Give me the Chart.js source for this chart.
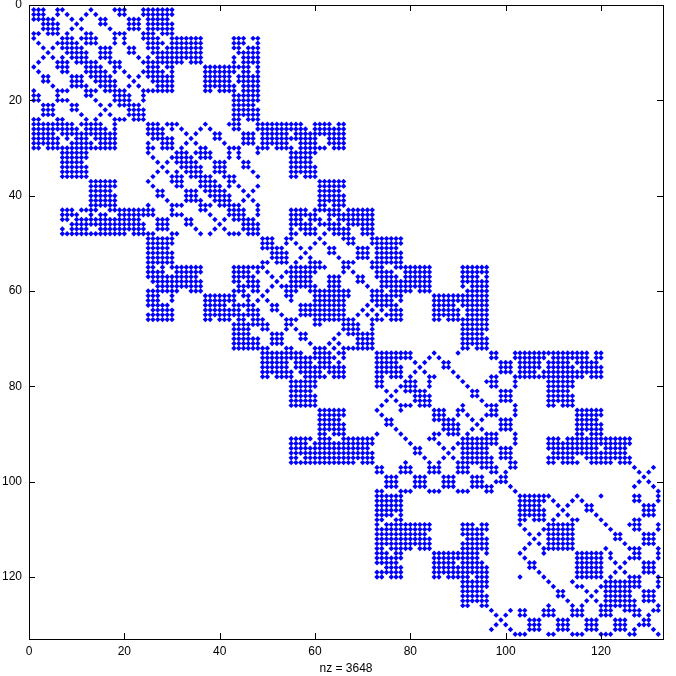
<!DOCTYPE html>
<html>
<head>
<meta charset="utf-8">
<style>
  html, body { margin: 0; padding: 0; background: #fff; }
  canvas { display: block; }
</style>
<script src="https://cdn.jsdelivr.net/npm/chart.js@4/dist/chart.umd.min.js"></script>
</head>
<body>
<canvas id="myChart" width="676" height="676"></canvas>
<script>
// sparsity pattern, one string per row, upper triangle (the matrix is symmetric)
const rows1to24 = [
  '1-3,6,7,13,18-20,24-30', '2,3,6,8,12,14,19,20,24-30', '3-5,9,11,15,16,21-23,25-29',
  '4-6,10,15,16,21-23,25-30', '5,6,9,11,17,21-23,25-30', '6,8,12,13,18-20,24-26,28-30',
  '7-9,11-14,18,20,24-27,30-36,43-45,47,48', '8-10,12-14,18,20,25-28,30-36,43-45,48',
  '9-11,15-17,21,22,25-27,29-36,43,44,46-48', '10-12,15-17,21,22,26-36,44-48',
  '11,12,15-17,23,25,27-36,43,45-48', '12-14,17-19,24-32,34-36,43,45-48',
  '13-15,18,19,25-27,29,30,37-46,48', '14-16,18,20,24-28,30,37-43,45,46,48',
  '15-17,21,23,25-30,37-42,44-48', '16-18,22,26-30,37-42,44-48',
  '17,18,21,23,27-30,37-43,45-48', '18-20,24-30,37,38,40-43,45-48',
  '19-21,24,43-48', '20,21,24,43-48', '21-23,43-47', '22-24,43-48', '23,24,43-48', '24,43,44,46-48'
];
const rows25to48 = [
  '25-27,29-31,37,42-44,48-57,60-63,65,66', '26-28,30,32,36,38,43,44,48-58,60-66',
  '27,28,33,35,39,40,45-47,49-54,56-66', '28-30,34,39,40,45-47,49-60,63-66',
  '29,30,33,35,41,45-47,49-54,57-60,63-66', '30,32,36,37,42-44,48-50,52-55,57-62,64-66',
  '31-33,35-38,42,44,48,55-60', '32-34,36-38,42,44,55-59', '33-35,39-41,45,46,55-59',
  '34-36,39-41,45,46,55-60', '35,36,39-41,47,55-60', '36-38,41-43,48,55,56,58-60',
  '37-39,42,43,61-66', '38-40,42,44,48,61-66', '39-41,45,47,61-65', '40-42,46,61-66',
  '41,42,45,47,61-66', '42-44,48,61,62,64-66', '43-45,48,55-58,60-65,67-72',
  '44,45,48,55-60,63-72', '45-47,55-57,59-61,63,65-72', '46-48,55-59,61-65,67-72',
  '47,48,55,57-60,63-67,70-72', '48,55,56,58-60,62,64-67,70-72'
];
const rows49to72 = [
  '49-51,54,55,61,66-68,72-78', '50,51,54,56,60,62,67,68,72-78', '51-53,57,59,63,64,69-71,73-77',
  '52-54,58,63,64,69-71,73-78', '53,54,57,59,65,69-71,73-78', '54,56,59-61,66-68,72-78',
  '55-62,66,67,72-74,77-84,91-96', '56-60,66,68,73-76,79-84,91-96',
  '57-59,63-65,69,70,73-77,79-84,91-94,96', '58,59,63-65,69,70,74-84,91-96',
  '59,60,63-65,71,74-84,91,93-96', '60-67,72-74,76-80,82-84,92-96', '61-67,72-78,85-96',
  '62-66,72-76,78,85-96', '63-66,71,73-77,85-89,91-96', '64-66,70,72,74,76-78,85-90,92-96',
  '65,66,69,71,73,75-78,85-90,92-96', '66-68,72-74,76-78,85,86,88-96', '67-69,72,91-96',
  '68,69,72,91-96', '69-72,91-95', '70-72,91-96', '71,72,91-96', '72,91,92,94-96'
];
const rows73to102 = [
  '73-80,85,90,97,98,102-117,119,120', '74-80,84,86,97,98,102-108,110-117,119,120',
  '75-77,81,83,87,88,99-101,103-107,109-113,115-119', '76-78,82,87,88,99-101,103-107,109-114,116-120',
  '77,78,81,83,89,99-101,103-106,108-120', '78,80,84,85,90,97,98,102-116,118-120',
  '79-81,84,91,96-98,102,109-114', '80,81,84,92,97,98,102,109-114', '81-83,93,94,99-101,109-113',
  '82-84,93,94,99-101,109-114', '83,84,95,99-101,109-114', '84,91,96-98,102,109,110,112-114',
  '85-87,90,91,97,98,102,115-120', '86,87,90,92,96-98,102,115-120', '87-89,93,95,99-101,115-119',
  '88-90,94,99-101,115-120', '89,90,93,95,99-101,115-120', '90,92,96-98,102,115,116,118-120',
  '91-98,102,109-111,113-126', '92-98,102,109-126', '93-96,99-101,109-119,121-125',
  '94-96,99-101,110-125', '95-97,99-101,109-114,117-126', '96,97,101,102,109,110,112-115,118-122,124-126',
  '97,98,101,102,127,131', '98,100,128,130', '99,100,129', '100,128,130', '101,127,131', '102,132'
];
const rows103to132 = [
  '103-109,115,120,127,128,132', '104-108,110,114,116,127,128,132', '105-107,111,113,117,118,129-131',
  '106-108,112,117,118,129-131', '107,108,111,113,119,129-131', '108,110,114,115,120,127,128',
  '109-114,121,126-128,132', '110-114,122,127,128,132', '111-114,123,124,129-131',
  '112-114,123,124,129-131', '113,114,125,129-131', '114,121,126-128,132',
  '115-120,122,127,128,132', '116-120,122,126-128,132', '117-120,123,125,129-131',
  '118-120,124,129-131', '119,120,123,125,129-131', '120,122,126-128,132', '121-128,132',
  '122-128,132', '123-126,129-131', '124-126,129-131', '125-127,129-131', '126,127,132',
  '127,128,131,132', '128,130', '129,130', '130', '131', '132'
];
const xTickValues = [0, 20, 40, 60, 80, 100, 120];
const yTickValues = [0, 20, 40, 60, 80, 100, 120];
const axisMax = 133;
const xLabel = 'nz = 3648';

const allRows = [...rows1to24, ...rows25to48, ...rows49to72, ...rows73to102, ...rows103to132];

const seen = new Set();
const points = [];
function addPoint(col, row) {
  const key = col + ':' + row;
  if (!seen.has(key)) {
    seen.add(key);
    points.push({ x: col, y: row });
  }
}
allRows.forEach((text, i) => {
  const row = i + 1;
  text.split(',').forEach(part => {
    const ends = part.split('-').map(Number);
    const last = ends.length > 1 ? ends[1] : ends[0];
    for (let col = ends[0]; col <= last; col++) {
      addPoint(col, row);
      addPoint(row, col);
    }
  });
});

// matlab style box with ticks pointing inwards
const boxTicks = {
  id: 'boxTicks',
  afterDraw(chart) {
    const c = chart.ctx, a = chart.chartArea;
    const sx = chart.scales.x, sy = chart.scales.y;
    const len = 6;
    c.save();
    c.strokeStyle = '#000';
    c.lineWidth = 1;
    c.strokeRect(a.left + 0.5, a.top + 0.5, a.right - a.left, a.bottom - a.top);
    c.beginPath();
    xTickValues.forEach(v => {
      const px = Math.round(sx.getPixelForValue(v)) + 0.5;
      c.moveTo(px, a.top); c.lineTo(px, a.top + len);
      c.moveTo(px, a.bottom); c.lineTo(px, a.bottom - len);
    });
    yTickValues.forEach(v => {
      const py = Math.round(sy.getPixelForValue(v)) + 0.5;
      c.moveTo(a.left, py); c.lineTo(a.left + len, py);
      c.moveTo(a.right, py); c.lineTo(a.right - len, py);
    });
    c.stroke();
    c.restore();
  }
};

new Chart(document.getElementById('myChart'), {
  type: 'scatter',
  data: {
    datasets: [{
      data: points,
      pointStyle: 'rectRot',
      pointRadius: 2.7,
      borderWidth: 0,
      backgroundColor: '#0000ff'
    }]
  },
  options: {
    responsive: false,
    animation: false,
    layout: { padding: { left: 0, top: 5, right: 13, bottom: 0 } },
    plugins: { legend: { display: false }, tooltip: { enabled: false } },
    scales: {
      x: {
        min: 0,
        max: axisMax,
        afterBuildTicks: s => { s.ticks = xTickValues.map(v => ({ value: v })); },
        afterFit: s => { s.height = 37; s.paddingLeft = 0; s.paddingRight = 0; },
        grid: { display: false, tickLength: 0 },
        border: { display: false },
        ticks: { color: '#000', padding: 5, maxRotation: 0, font: { family: 'Liberation Sans', size: 12 } },
        title: { display: true, text: xLabel, color: '#000', padding: 0, font: { family: 'Liberation Sans', size: 12 } }
      },
      y: {
        min: 0,
        max: axisMax,
        reverse: true,
        afterBuildTicks: s => { s.ticks = yTickValues.map(v => ({ value: v })); },
        afterFit: s => { s.width = 29; s.paddingTop = 0; s.paddingBottom = 0; },
        grid: { display: false, tickLength: 0 },
        border: { display: false },
        ticks: { color: '#000', padding: 7, font: { family: 'Liberation Sans', size: 12 } }
      }
    }
  },
  plugins: [boxTicks]
});
</script>
</body>
</html>
